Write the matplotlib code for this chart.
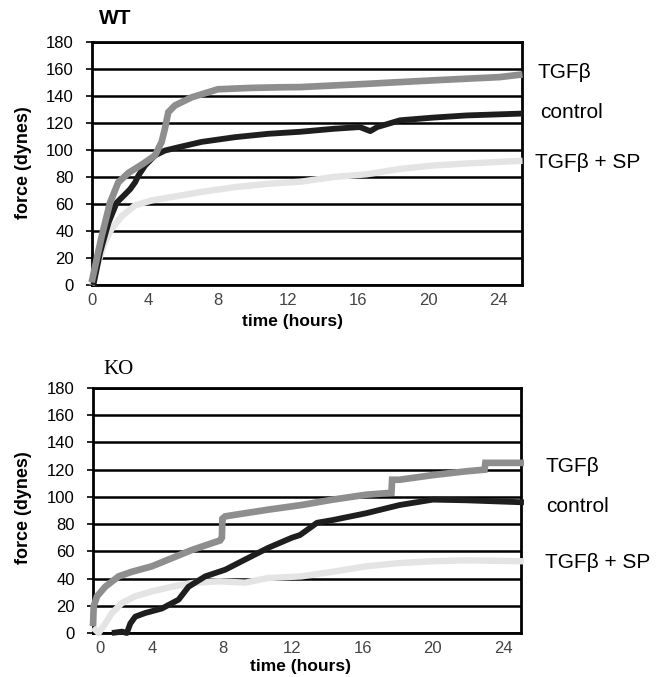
import matplotlib
matplotlib.use("Agg")
import matplotlib.pyplot as plt

# ---------------- data (hours on the printed time scale, force in dynes) ----------------
wt_tgf_t = [0.78, 1.35, 1.83, 2.3, 2.88, 3.74, 4.4, 4.78, 4.97, 5.16, 5.54, 6.49, 8.0, 9.9, 11.8,
            12.7, 16.5, 20.3, 24.1, 25.4]
wt_tgf_v = [2, 36, 61, 76, 83, 90, 96, 106, 116, 128, 133, 139, 145, 146, 146.5,
            146.6, 149, 151.6, 154, 156]

wt_ctl_t = [0.88, 1.26, 1.74, 2.21, 2.6, 2.98, 3.26, 3.45, 3.83, 4.4, 4.97, 5.73, 7.06, 8.97, 10.87,
            12.7, 14.6, 16.1, 16.7, 17.1, 18.4, 20.3, 22.2, 25.4]
wt_ctl_v = [0, 24, 46, 61, 66, 71, 76, 81, 88.5, 96, 99.6, 102, 106, 109.5, 112,
            113.5, 115.7, 117, 114, 117, 122, 124, 125.6, 127]

wt_sp_t = [0.78, 1.16, 1.54, 1.92, 2.5, 3.26, 4.2, 5.73, 7.06, 8.97, 10.87, 12.7, 14.6, 16.5,
           18.4, 20.3, 22.2, 25.4]
wt_sp_v = [0, 17, 32, 41.5, 51, 59, 62.6, 66, 69, 72.5, 75, 76.5, 80, 82,
           86, 88.5, 90, 92]

ko_tgf_t = [0.62, 0.66, 0.85, 1.32, 2.08, 2.84, 3.98, 5.12, 6.26, 7.4, 7.87, 7.97, 8.0, 8.16, 9.3,
            10.6, 12.5, 14.3, 16.2, 17.64, 17.68, 18.1, 20.0, 21.9, 22.95, 23.0, 25.2]
ko_tgf_v = [5, 19.6, 27, 34, 41.6, 45, 49, 55, 61, 66, 68, 70, 84, 85.7, 88,
            90.6, 94, 98, 101.6, 103, 112.6, 112.6, 116, 118.8, 120, 125, 125]

ko_ctl_t = [1.7, 2.27, 2.55, 2.75, 3.03, 3.6, 4.55, 5.5, 6.07, 7.02, 8.16, 9.3, 10.6, 11.96,
            12.43, 13.4, 14.3, 16.2, 18.1, 20.0, 21.9, 25.2]
ko_ctl_v = [0, 1, 0, 7, 12, 14.7, 18, 24.5, 34, 41.6, 46.5, 54, 62.5, 70,
            72, 81, 83, 88, 94, 98, 97.5, 96]

ko_sp_t = [0.62, 0.94, 1.32, 1.7, 2.27, 3.03, 3.98, 5.12, 6.26, 7.78, 9.3, 10.6, 12.5, 14.3,
           16.2, 18.1, 20.0, 21.9, 25.2]
ko_sp_v = [4, 0, 7, 14.7, 22, 27, 30.6, 34, 36.7, 38, 37, 40.4, 41.6, 45,
           49, 51.4, 52.7, 53.4, 52.7]

y_ticks = [0, 20, 40, 60, 80, 100, 120, 140, 160, 180]
x_tick_labels = ["0", "4", "8", "12", "16", "20", "24"]
series_names = ["TGFβ", "control", "TGFβ + SP"]

# ---------------- figure ----------------
W, H = 661, 677
fig = plt.figure(figsize=(W / 100, H / 100), dpi=100)
fig.patch.set_facecolor("white")

SANS = ["Liberation Sans", "DejaVu Sans"]
SERIF = ["Liberation Serif", "DejaVu Serif"]

C_TGF = "#8e8e8e"
C_CTL = "#1e1e1e"
C_SP = "#e4e4e4"


def fx(px):
    return px / W


def fy(py):
    return 1 - py / H


def make_panel(rect, xlim, first_tick, tgf, ctl, sp):
    ax = fig.add_axes(rect)
    ax.set_xlim(*xlim)
    ax.set_ylim(0, 180)
    for yv in y_ticks:
        ax.axhline(yv, color="black", lw=1.8, zorder=1)
    ax.plot(sp[0], sp[1], color=C_SP, lw=4.6, zorder=3, solid_capstyle="butt",
            solid_joinstyle="round", clip_on=False)
    ax.plot(ctl[0], ctl[1], color=C_CTL, lw=4.2, zorder=4, solid_capstyle="butt",
            solid_joinstyle="round", clip_on=False)
    ax.plot(tgf[0], tgf[1], color=C_TGF, lw=4.8, zorder=5, solid_capstyle="butt",
            solid_joinstyle="miter", clip_on=False)
    for s in ax.spines.values():
        s.set_color("black")
        s.set_linewidth(2)
    ax.set_yticks(y_ticks)
    ax.set_yticklabels([str(v) for v in y_ticks], fontfamily=SANS, fontsize=12)
    ax.tick_params(axis="y", length=4, width=1.2, pad=9, colors="black")
    ax.set_xticks([first_tick, 4, 8, 12, 16, 20, 24])
    ax.set_xticklabels(x_tick_labels, fontfamily=SANS, fontsize=12, color="#444444")
    ax.tick_params(axis="x", length=0, pad=6)
    ax.set_facecolor("white")
    return ax


ax1 = make_panel([fx(92), fy(285), fx(522) - fx(92), fy(42) - fy(285)], (0.8, 25.37), 0.82,
                 (wt_tgf_t, wt_tgf_v), (wt_ctl_t, wt_ctl_v), (wt_sp_t, wt_sp_v))
ax2 = make_panel([fx(93), fy(633), fx(521) - fx(93), fy(388) - fy(633)], (0.62, 25.03), 1.04,
                 (ko_tgf_t, ko_tgf_v), (ko_ctl_t, ko_ctl_v), (ko_sp_t, ko_sp_v))

# titles
fig.text(fx(99), fy(18), "WT", fontfamily=SANS, fontsize=15, fontweight="bold", va="center", ha="left")
fig.text(fx(103), fy(370), "KO", fontfamily=SERIF, fontsize=15, va="center", ha="left")

# axis labels
for cy in (163, 508):
    fig.text(fx(24), fy(cy), "force (dynes)", fontfamily=SANS, fontsize=13, fontweight="bold",
             rotation=90, va="center", ha="center")
fig.text(fx(293), fy(321), "time (hours)", fontfamily=SANS, fontsize=12.5, fontweight="bold",
         va="center", ha="center")
fig.text(fx(300), fy(666), "time (hours)", fontfamily=SANS, fontsize=12.5, fontweight="bold",
         va="center", ha="center")

# series labels
for (lx, ly), name in zip([(538, 72), (540, 113), (535, 163)], series_names):
    fig.text(fx(lx), fy(ly), name, fontfamily=SANS, fontsize=15, va="center", ha="left")
for (lx, ly), name in zip([(545, 467), (546, 506), (545, 563)], series_names):
    fig.text(fx(lx), fy(ly), name, fontfamily=SANS, fontsize=15, va="center", ha="left")

fig.savefig("out.png", dpi=100, facecolor="white")
